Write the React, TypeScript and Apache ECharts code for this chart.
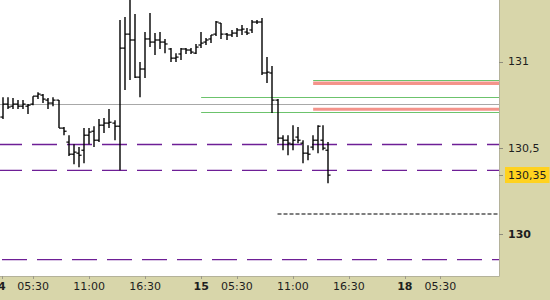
import React, { useEffect, useRef } from "react";
import * as echarts from "echarts";

const slotCount = 98;
const categories = Array.from({ length: slotCount }, (_, i) => String(i));
const tickSlots = [0, 6, 17, 28, 39, 46, 57, 68, 79, 86];
const tickLabels = ["14", "05:30", "11:00", "16:30", "15", "05:30", "11:00", "16:30", "18", "05:30"];
const boldTickLabels = ["14", "15", "18"];

const opens = [
  130.680, 130.755, 130.743, 130.755, 130.743, 130.743, 130.755, 130.801, 130.807, 130.778,
  130.761, 130.778, 130.616, 130.535, 130.465, 130.471, 130.488, 130.575, 130.598, 130.546,
  130.633, 130.645, 130.645, 130.627, 131.079, 131.160, 131.126, 130.911, 130.958, 131.132,
  131.114, 131.126, 131.114, 131.074, 131.021, 131.045, 131.074, 131.068, 131.050, 131.097,
  131.114, 131.132, 131.160, 131.224, 131.160, 131.155, 131.166, 131.184, 131.172, 131.184,
  131.230, 131.230, 130.935, 130.935, 130.778, 130.558, 130.546, 130.523, 130.564, 130.529,
  130.471, 130.506, 130.546, 130.546, 130.488,
];
const highs = [
  130.795, 130.795, 130.790, 130.778, 130.778, 130.755, 130.801, 130.824, 130.813, 130.790,
  130.795, 130.778, 130.622, 130.575, 130.523, 130.506, 130.616, 130.616, 130.627, 130.668,
  130.674, 130.726, 130.662, 131.242, 131.259, 131.370, 131.276, 130.998, 131.172, 131.282,
  131.166, 131.172, 131.132, 131.079, 131.050, 131.079, 131.079, 131.079, 131.103, 131.172,
  131.137, 131.155, 131.236, 131.224, 131.166, 131.184, 131.195, 131.213, 131.195, 131.242,
  131.242, 131.253, 131.027, 130.975, 130.784, 130.575, 130.575, 130.633, 130.622, 130.546,
  130.517, 130.575, 130.633, 130.633, 130.535,
];
const lows = [
  130.668, 130.726, 130.726, 130.726, 130.726, 130.697, 130.749, 130.784, 130.761, 130.726,
  130.743, 130.616, 130.575, 130.454, 130.407, 130.390, 130.413, 130.523, 130.506, 130.535,
  130.587, 130.616, 130.546, 130.372, 130.836, 130.894, 130.906, 130.795, 130.906, 131.085,
  131.039, 131.074, 131.050, 130.998, 130.998, 131.010, 131.045, 131.045, 131.045, 131.079,
  131.097, 131.108, 131.149, 131.132, 131.126, 131.143, 131.143, 131.155, 131.155, 131.166,
  131.218, 130.923, 130.877, 130.703, 130.529, 130.488, 130.459, 130.488, 130.529, 130.413,
  130.430, 130.488, 130.471, 130.488, 130.297,
];
const closes = [
  130.755, 130.738, 130.755, 130.743, 130.755, 130.749, 130.801, 130.813, 130.784, 130.761,
  130.778, 130.616, 130.598, 130.465, 130.477, 130.459, 130.575, 130.593, 130.546, 130.633,
  130.645, 130.650, 130.627, 131.079, 131.160, 131.126, 130.911, 130.958, 131.132, 131.114,
  131.126, 131.114, 131.103, 131.021, 131.027, 131.074, 131.068, 131.056, 131.085, 131.108,
  131.126, 131.155, 131.230, 131.160, 131.155, 131.166, 131.184, 131.189, 131.166, 131.230,
  131.230, 130.935, 130.940, 130.778, 130.558, 130.546, 130.529, 130.546, 130.546, 130.471,
  130.465, 130.546, 130.627, 130.500, 130.344,
];

const priceTicks = [130, 130.5, 131];
const lastPrice = 130.344;
const lastPriceLabel = "130,35";

const grayLevels = [130.753];
const greenLevels = [130.897, 130.794, 130.707];
const greenStarts = [61, 39, 39];
const pinkLevels = [130.875, 130.725];
const pinkStarts = [61, 61];
const purpleLevels = [130.521, 130.371, 129.855];
const blackLevels = [130.119];
const blackStarts = [54];

const FONT = "DejaVu Sans";

function levelSeries(
  name: string,
  values: number[],
  starts: number[] | null,
  style: (i: number) => any,
  z: number,
  crisp: boolean
) {
  return {
    type: "custom",
    name,
    z,
    silent: true,
    clip: false,
    encode: { x: 0, y: 1 },
    data: values.map((v, i) => [starts ? starts[i] : 0, v]),
    renderItem: (params: any, api: any) => {
      const cs = params.coordSys;
      const v = api.value(1);
      let y = api.coord([0, v])[1];
      if (crisp) y = Math.round(y) + 0.5;
      const x1 = starts ? api.coord([api.value(0), v])[0] : cs.x;
      return {
        type: "line",
        shape: { x1, y1: y, x2: cs.x + cs.width, y2: y },
        style: style(params.dataIndex),
      };
    },
  };
}

export default function App() {
  const ref = useRef<HTMLDivElement>(null);
  useEffect(() => {
    if (!ref.current) return;
    const chart = echarts.init(ref.current, null, { renderer: "svg" });
    const ohlc = opens.map((o, i) => [i, o, closes[i], lows[i], highs[i]]);
    const labelFor = (index: number) => {
      const k = tickSlots.indexOf(index);
      if (k < 0) return "";
      const t = tickLabels[k];
      if (index === 0) return "{first|" + t + "}";
      return boldTickLabels.includes(t) ? "{b|" + t + "}" : "{n|" + t + "}";
    };
    const showSlot = (index: number) => tickSlots.includes(index);
    const purpleOffsets = [3.3, 3.3, -1.7];

    chart.setOption({
      animation: false,
      backgroundColor: "#d8d6aa",
      grid: {
        left: 0,
        top: 0,
        right: 51,
        bottom: 24,
        containLabel: false,
        outerBoundsMode: "none",
        show: true,
        backgroundColor: "#ffffff",
        borderWidth: 0,
      },
      xAxis: {
        type: "category",
        data: categories,
        boundaryGap: true,
        axisLine: { show: true, lineStyle: { color: "#b4b29a", width: 1 } },
        axisTick: {
          show: true,
          interval: (i: number) => showSlot(i),
          alignWithLabel: true,
          length: 3,
          lineStyle: { color: "#9c9a88" },
        },
        axisLabel: {
          interval: (i: number) => showSlot(i),
          formatter: (_v: string, i: number) => labelFor(i),
          margin: 5,
          rich: {
            n: { fontFamily: FONT, fontSize: 11, color: "#1e1e1e" },
            b: { fontFamily: FONT, fontSize: 11, color: "#1e1e1e", fontWeight: "bold" },
            first: {
              fontFamily: FONT,
              fontSize: 11,
              color: "#1e1e1e",
              fontWeight: "bold",
              padding: [0, 9, 0, 0],
            },
          },
        },
        splitLine: { show: false },
      },
      yAxis: {
        type: "value",
        position: "right",
        min: 129.76,
        max: 131.3575,
        scale: true,
        splitLine: { show: false },
        axisLine: { show: true, lineStyle: { color: "#b4b29a", width: 1 } },
        axisTick: {
          show: true,
          length: 4,
          lineStyle: { color: "#8e8c7c" },
          customValues: [...priceTicks, lastPrice],
        },
        axisLabel: {
          customValues: [...priceTicks, lastPrice],
          margin: 6,
          formatter: (v: number) => {
            if (Math.abs(v - lastPrice) < 1e-6) return "{y|" + lastPriceLabel + "}";
            if (v === 130) return "{b|130}";
            return "{n|" + String(v).replace(".", ",") + "}";
          },
          rich: {
            n: { fontFamily: FONT, fontSize: 11, color: "#1e1e1e", padding: [2, 3, 2, 3] },
            b: {
              fontFamily: FONT,
              fontSize: 11,
              color: "#1e1e1e",
              fontWeight: "bold",
              padding: [2, 3, 2, 3],
            },
            y: {
              fontFamily: FONT,
              fontSize: 11,
              color: "#1e1e1e",
              backgroundColor: "#ffd21f",
              padding: [3, 3, 2, 3],
            },
          },
        },
      },
      series: [
        levelSeries("gray", grayLevels, null, () => ({ stroke: "#a8a8a8", lineWidth: 1 }), 1, true),
        levelSeries("pink", pinkLevels, pinkStarts, (i) => ({
          stroke: "#f4938a",
          lineWidth: i === 0 ? 3.5 : 3,
        }), 2, false),
        levelSeries("green", greenLevels, greenStarts, () => ({ stroke: "#6cc36c", lineWidth: 1 }), 3, true),
        levelSeries("purple", purpleLevels, null, (i) => ({
          stroke: "#6e1f96",
          lineWidth: 1.3,
          lineDash: [25, 10],
          lineDashOffset: purpleOffsets[i],
        }), 4, false),
        levelSeries("black", blackLevels, blackStarts, () => ({
          stroke: "#000000",
          lineWidth: 1.2,
          lineDash: [4, 2],
        }), 4, false),
        {
          type: "custom",
          name: "ohlc",
          z: 10,
          clip: true,
          encode: { x: 0, y: [1, 2, 3, 4] },
          data: ohlc,
          renderItem: (_params: any, api: any) => {
            const i = api.value(0);
            const x = Math.round(api.coord([i, api.value(1)])[0]);
            const yo = api.coord([i, api.value(1)])[1];
            const yc = api.coord([i, api.value(2)])[1];
            const yl = api.coord([i, api.value(3)])[1];
            const yh = api.coord([i, api.value(4)])[1];
            const st = { stroke: "#000000", lineWidth: 1.4 };
            return {
              type: "group",
              children: [
                { type: "line", shape: { x1: x, y1: yh, x2: x, y2: yl }, style: st },
                { type: "line", shape: { x1: x - 2.6, y1: yo, x2: x, y2: yo }, style: { stroke: "#000", lineWidth: 1.2 } },
                { type: "line", shape: { x1: x, y1: yc, x2: x + 2.6, y2: yc }, style: { stroke: "#000", lineWidth: 1.2 } },
              ],
            };
          },
        },
      ],
    });
    return () => chart.dispose();
  }, []);
  return (
    <div
      ref={ref}
      style={{ position: "fixed", left: 0, top: 0, width: 550, height: 300 }}
    />
  );
}
